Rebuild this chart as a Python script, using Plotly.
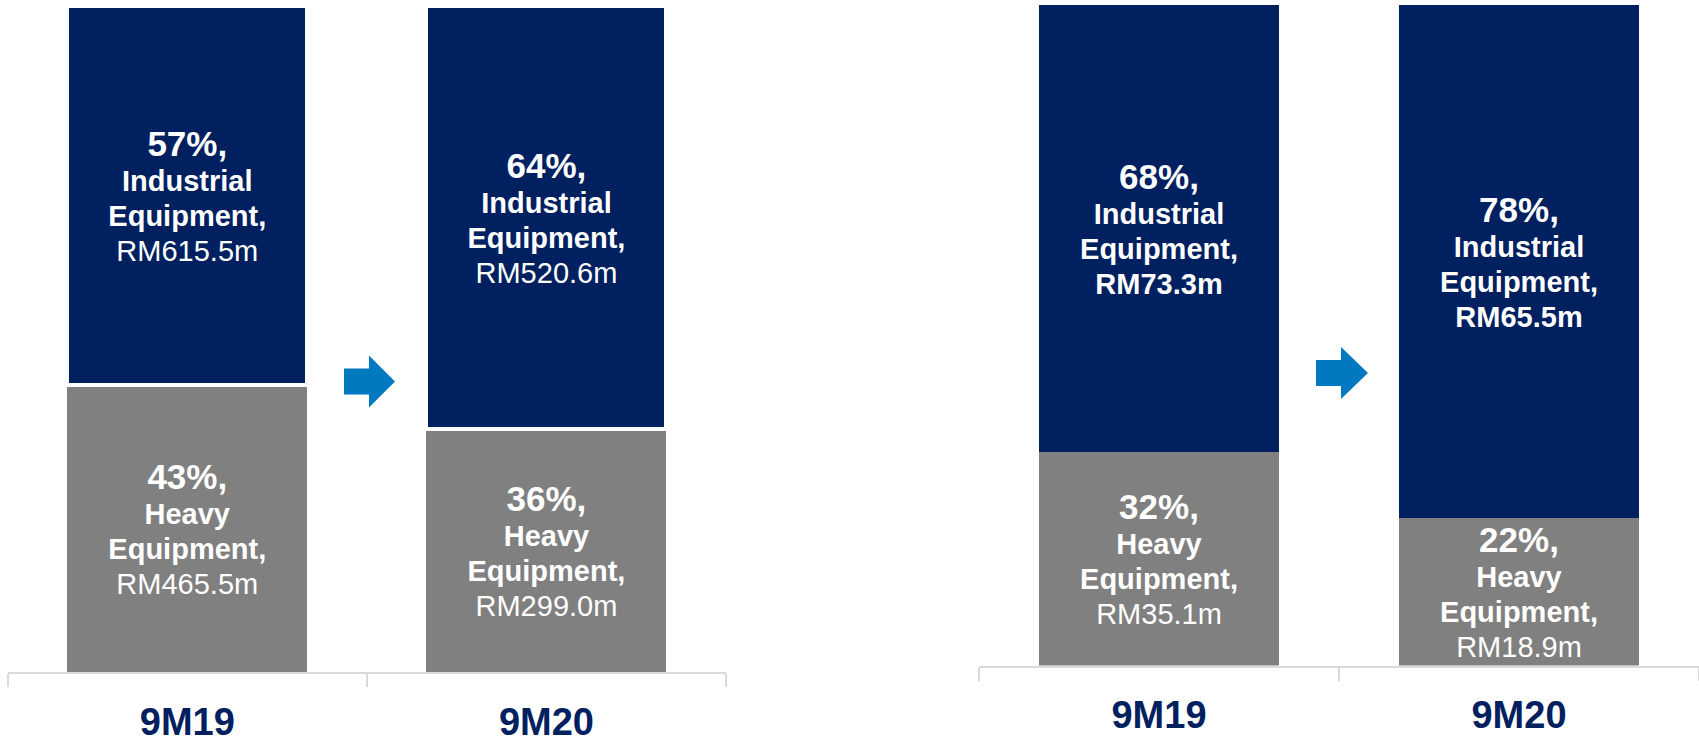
import plotly.graph_objects as go

# ---------------- data ----------------
categories = ["9M19", "9M20"]

# Left chart (RM million)
left_industrial = [615.5, 520.6]
left_heavy = [465.5, 299.0]
left_industrial_pct = ["57%", "64%"]
left_heavy_pct = ["43%", "36%"]

# Right chart (RM million)
right_industrial = [73.3, 65.5]
right_heavy = [35.1, 18.9]
right_industrial_pct = ["68%", "78%"]
right_heavy_pct = ["32%", "22%"]

# ---------------- style ----------------
NAVY = "#002060"
GRAY = "#808080"
ARROW = "#0079C1"
AXIS = "#D9D9D9"
FONT = "Arial, 'Liberation Sans', sans-serif"
W, H = 1699, 744


def template(line1, line2, bold_value):
    val = "RM%{customdata[1]:.1f}m"
    if bold_value:
        val = "<b>" + val + "</b>"
    s = "<span style='font-size:29px'>"
    return ("<span style='font-size:35px'><b>%{customdata[0]},</b></span><br>"
            + s + "<b>" + line1 + "</b></span><br>"
            + s + "<b>" + line2 + "</b></span><br>"
            + s + val + "</span>")


def bar(values, pcts, color, line_w, tmpl, xa, ya):
    return go.Bar(
        x=categories, y=values,
        customdata=[[p, v] for p, v in zip(pcts, values)],
        texttemplate=tmpl,
        textposition="inside", insidetextanchor="middle",
        constraintext="none", textangle=0,
        textfont=dict(family=FONT, size=27, color="white"),
        marker=dict(color=color, line=dict(color="white", width=line_w)),
        xaxis=xa, yaxis=ya, showlegend=False, hoverinfo="skip",
    )


fig = go.Figure()
fig.add_trace(bar(left_heavy, left_heavy_pct, GRAY, 0,
                  template("Heavy", "Equipment,", False), "x", "y"))
fig.add_trace(bar(left_industrial, left_industrial_pct, NAVY, 4,
                  template("Industrial", "Equipment,", False), "x", "y"))
fig.add_trace(bar(right_heavy, right_heavy_pct, GRAY, 0,
                  template("Heavy", "Equipment,", False), "x2", "y2"))
fig.add_trace(bar(right_industrial, right_industrial_pct, NAVY, 0,
                  template("Industrial", "Equipment,", True), "x2", "y2"))


def xaxis(domain, anchor):
    return dict(
        domain=domain, anchor=anchor, type="category", range=[-0.5, 1.5],
        showline=True, linecolor=AXIS, linewidth=2,
        ticks="outside", tickson="boundaries", ticklen=13, tickwidth=2, tickcolor=AXIS,
        tickfont=dict(family=FONT, size=38, color=NAVY, weight="bold"),
        ticklabelstandoff=15,
        showgrid=False, zeroline=False, automargin=False, fixedrange=True,
    )


def yaxis(domain, anchor):
    return dict(domain=domain, anchor=anchor, range=[0, 100], visible=False,
                fixedrange=True)


def px_x(v):
    return v / W


def px_y(v):
    return 1 - v / H


def arrow(x0, xn, xt, ym, sh, hh):
    pts = [(x0, ym - sh), (xn, ym - sh), (xn, ym - hh), (xt, ym),
           (xn, ym + hh), (xn, ym + sh), (x0, ym + sh)]
    path = "M " + " L ".join(f"{px_x(a):.5f},{px_y(b):.5f}" for a, b in pts) + " Z"
    return dict(type="path", xref="paper", yref="paper", path=path,
                fillcolor=ARROW, line=dict(width=0), layer="above")


fig.update_layout(
    width=W, height=H,
    margin=dict(l=0, r=0, t=0, b=0),
    paper_bgcolor="white", plot_bgcolor="white",
    barmode="stack", barnorm="percent", bargap=0.332,
    xaxis=xaxis([7.7 / W, 726 / W], "y"),
    yaxis=yaxis([1 - 672.3 / H, 1 - 6 / H], "x"),
    xaxis2=xaxis([979 / W, 1.0], "y2"),
    yaxis2=yaxis([1 - 665.5 / H, 1 - 5 / H], "x2"),
    shapes=[arrow(344, 369, 395, 381.5, 13, 26),
            arrow(1316, 1341, 1368, 373, 13, 26)],
    showlegend=False,
)

fig.write_html("out.html")
